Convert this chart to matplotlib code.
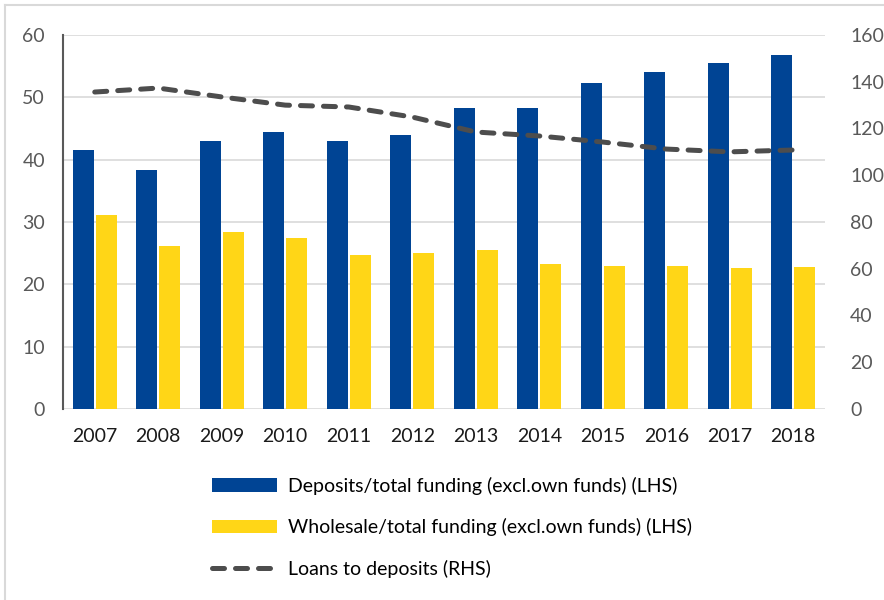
import matplotlib
matplotlib.use("Agg")
import matplotlib.pyplot as plt
import numpy as np
from matplotlib.patches import Patch
from matplotlib.lines import Line2D

years = ["2007", "2008", "2009", "2010", "2011", "2012",
         "2013", "2014", "2015", "2016", "2017", "2018"]
deposits = [41.6, 38.4, 43.0, 44.5, 43.0, 44.0, 48.3, 48.3, 52.3, 54.1, 55.5, 56.8]
wholesale = [31.1, 26.2, 28.4, 27.4, 24.7, 25.0, 25.5, 23.3, 23.0, 23.0, 22.6, 22.8]
loans_to_deposits = [135.6, 137.3, 133.5, 130.0, 129.2, 124.9, 118.5, 116.8, 114.2, 111.2, 110.0, 110.8]

left_ticks = [0, 10, 20, 30, 40, 50, 60]
right_ticks = [0, 20, 40, 60, 80, 100, 120, 140, 160]

BLUE = "#004494"
YELLOW = "#FFD617"
LINE = "#4D4D4D"
GRID = "#D9D9D9"
TICKC = "#595959"

plt.rcParams['font.family'] = ['Lato', 'DejaVu Sans']

fig = plt.figure(figsize=(8.84, 6.0), dpi=100)
ax = fig.add_axes([63/884, 1-409/600, (825-63)/884, (409-35)/600])
ax2 = ax.twinx()

x = np.arange(len(years))
w = 0.33
gap = 0.035
ax.bar(x - (w+gap)/2, deposits, width=w, color=BLUE, zorder=2)
ax.bar(x + (w+gap)/2, wholesale, width=w, color=YELLOW, zorder=2)

ax.set_ylim(0, 60)
ax.set_yticks(left_ticks)
ax.set_xlim(-0.5, len(years)-0.5)
ax.set_xticks(x)
ax.set_xticklabels(years)
ax.yaxis.grid(True, color=GRID, linewidth=1.2, zorder=0)
ax.set_axisbelow(True)
for s in ["top", "right", "bottom"]:
    ax.spines[s].set_visible(False)
ax.spines["left"].set_color("#595959")
ax.spines["left"].set_linewidth(1.5)
ax.tick_params(axis="y", length=0, pad=13, labelsize=14, labelcolor=TICKC)
ax.tick_params(axis="x", length=0, pad=14, labelsize=14, labelcolor="#1a1a1a")

ax2.plot(x, loans_to_deposits, color=LINE, linewidth=3.6,
         dashes=(2.4, 2.2), dash_capstyle="round", zorder=3)
ax2.set_ylim(0, 160)
ax2.set_yticks(right_ticks)
for s in ["top", "right", "bottom", "left"]:
    ax2.spines[s].set_visible(False)
ax2.tick_params(axis="y", length=0, pad=18, labelsize=14, labelcolor=TICKC)

handles = [
    Patch(facecolor=BLUE, edgecolor="none"),
    Patch(facecolor=YELLOW, edgecolor="none"),
    Line2D([0], [0], color=LINE, linewidth=3.6, dashes=(2.4, 2.2), dash_capstyle="round"),
]
labels = [
    "Deposits/total funding (excl.own funds) (LHS)",
    "Wholesale/total funding (excl.own funds) (LHS)",
    "Loans to deposits (RHS)",
]
fig.legend(handles, labels, loc="upper left", bbox_to_anchor=(212/884, 1-477/600),
           frameon=False, fontsize=14, handlelength=3.35, handletextpad=0.55,
           labelspacing=1.2, borderpad=0, borderaxespad=0)

# figure frame (left & top)
fig.add_artist(Line2D([5/884, 5/884], [0, 1-5/600], color="#D9D9D9", linewidth=1.5,
                      transform=fig.transFigure))
fig.add_artist(Line2D([5/884, 1], [1-5/600, 1-5/600], color="#D9D9D9", linewidth=1.5,
                      transform=fig.transFigure))

fig.savefig("out.png", dpi=100)
